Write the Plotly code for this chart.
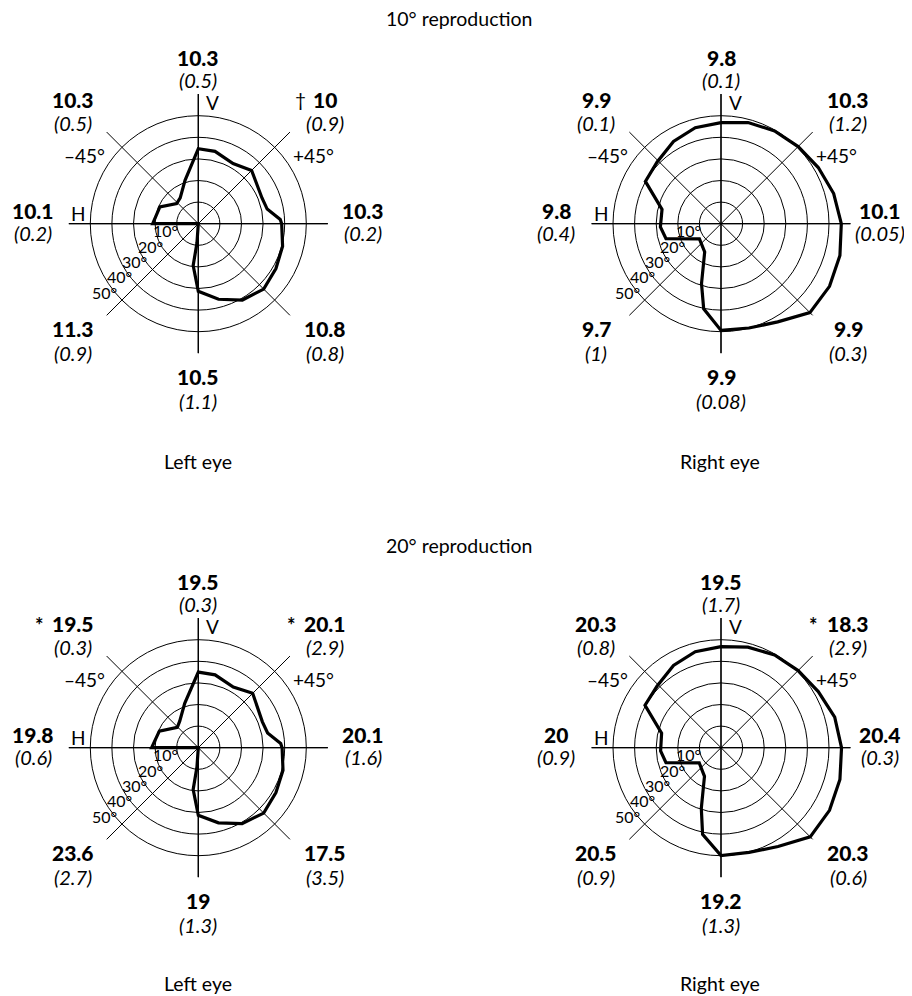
import plotly.graph_objects as go

# The page body has an 8 px margin, so the figure is drawn 8 px in from the window's corner.
PAGE_OFF = 8
FIG_W, FIG_H = 904, 988
R_MAX = 60            # radial extent of the spokes (degrees of visual angle)
R_PX = 129.6          # pixel radius that corresponds to R_MAX
PX_PER_DEG = R_PX / R_MAX

rings = [10, 20, 30, 40, 50]
ring_labels = ["10°", "20°", "30°", "40°", "50°"]
spokes = [0, 45, 90, 135, 180, 225, 270, 315]

# ---- boundary traces (theta in degrees, 0 = right, counter-clockwise; r in degrees) ----
tl_theta = [0, 180, 156.5, 137, 125, 107, 90, 77, 60, 45, 22, 12, 3, 0, -15, -30, -45, -60, -75, -90, -97, -94, 0]
tl_r     = [0, 21.1, 19.4, 13.7, 14.6, 21.0, 34.7, 34.4, 32.2, 34.9, 31.8, 32.6, 38.0, 38.6, 40.4, 41.5, 42.8, 40.8, 36.2, 31.3, 19.5, 9.0, 0]

bl_theta = [0, 180, 157, 136, 125, 107, 90, 77, 60, 45, 22, 12, 3, 0, -15, -30, -45, -60, -75, -90, -97, -94, 0]
bl_r     = [0, 21.6, 19.6, 13.5, 15.0, 21.5, 35.0, 34.6, 32.4, 35.6, 32.0, 32.8, 38.2, 38.8, 40.6, 41.5, 42.8, 40.6, 36.0, 31.3, 19.5, 9.0, 0]

tr_theta = [90, 75, 60, 45, 30, 15, 0, -15, -30, -45, -60, -75, -90, -101.5, -108, -120, -145, -164.7, -177, 166.3, 150.8, 136, 120, 105, 90]
tr_r     = [46.8, 48.5, 49.6, 50.5, 52.0, 54.0, 55.7, 57.0, 58.0, 58.2, 52.5, 50.0, 49.4, 40.2, 29.2, 15.1, 12.2, 26.4, 28.1, 28.1, 40.1, 41.1, 44.0, 46.0, 46.8]

br_theta = [90, 75, 60, 45, 30, 15, 0, -15, -30, -45, -60, -75, -90, -102, -108, -120, -145, -164.7, -177, 166.3, 150.8, 136, 120, 105, 90]
br_r     = [46.8, 48.2, 49.6, 50.5, 52.0, 54.5, 55.8, 57.0, 58.0, 58.4, 52.8, 50.2, 49.9, 41.0, 29.5, 15.3, 12.3, 26.4, 28.0, 28.3, 40.3, 41.1, 44.0, 46.0, 46.8]

# ---- meridian labels: mean (bold) and SD (italic) ----
label_pos = ["top", "ul", "ur", "left", "right", "ll", "lr", "bottom"]

tl_means = ["10.3", "10.3", "10", "10.1", "10.3", "11.3", "10.8", "10.5"]
tl_sds   = ["(0.5)", "(0.5)", "(0.9)", "(0.2)", "(0.2)", "(0.9)", "(0.8)", "(1.1)"]
tl_marks = ["", "", "†", "", "", "", "", ""]

tr_means = ["9.8", "9.9", "10.3", "9.8", "10.1", "9.7", "9.9", "9.9"]
tr_sds   = ["(0.1)", "(0.1)", "(1.2)", "(0.4)", "(0.05)", "(1)", "(0.3)", "(0.08)"]
tr_marks = ["", "", "", "", "", "", "", ""]

bl_means = ["19.5", "19.5", "20.1", "19.8", "20.1", "23.6", "17.5", "19"]
bl_sds   = ["(0.3)", "(0.3)", "(2.9)", "(0.6)", "(1.6)", "(2.7)", "(3.5)", "(1.3)"]
bl_marks = ["", "*", "*", "", "", "", "", ""]

br_means = ["19.5", "20.3", "18.3", "20", "20.4", "20.5", "20.3", "19.2"]
br_sds   = ["(1.7)", "(0.8)", "(2.9)", "(0.9)", "(0.3)", "(0.9)", "(0.6)", "(1.3)"]
br_marks = ["", "", "*", "", "", "", "", ""]

section_titles = ["10° reproduction", "20° reproduction"]
eye_titles = ["Left eye", "Right eye"]

# ---- layout helpers (window pixel coordinates) ----
FONT = "Lato, 'Noto Sans', sans-serif"
centres = {"tl": (198.3, 223.7), "tr": (721.0, 223.7), "bl": (198.3, 747.7), "br": (721.0, 747.7)}
right_dx = {"tl": 165, "tr": 159, "bl": 165, "br": 159}
# pixel offsets (dx, dy_bold, dy_italic) from the chart centre
offsets = {"top": (0, -166, -144), "ul": (-125, -124, -101), "ur": (127, -124, -101),
           "left": (-165, -13, 9), "right": (None, -13, 9), "ll": (-125, 105, 129),
           "lr": (127, 105, 129), "bottom": (0, 153, 177)}


def px(x):
    return (x - PAGE_OFF) / FIG_W


def py(y):
    return 1 - (y - PAGE_OFF) / FIG_H


def text_width(s):
    return sum(5.5 if c == "." else 12.2 for c in s)


def ann(x, y, text, size, weight=None, xanchor="center"):
    font = dict(family=FONT, size=size, color="black")
    if weight:
        font["weight"] = weight
    return dict(x=px(x), y=py(y), text=text, showarrow=False, xref="paper", yref="paper",
                xanchor=xanchor, yanchor="middle", font=font)


fig = go.Figure()
annotations = []

charts = [
    ("tl", "polar", tl_theta, tl_r, tl_means, tl_sds, tl_marks),
    ("tr", "polar2", tr_theta, tr_r, tr_means, tr_sds, tr_marks),
    ("bl", "polar3", bl_theta, bl_r, bl_means, bl_sds, bl_marks),
    ("br", "polar4", br_theta, br_r, br_means, br_sds, br_marks),
]

layout_polars = {}
for key, sp, th, rr, means, sds, marks in charts:
    cx, cy = centres[key]
    layout_polars[sp] = dict(
        domain=dict(x=[px(cx - R_PX), px(cx + R_PX)], y=[py(cy + R_PX), py(cy - R_PX)]),
        bgcolor="white",
        radialaxis=dict(range=[0, R_MAX], tickmode="array", tickvals=rings, showticklabels=False,
                        ticks="", showline=False, gridcolor="black", gridwidth=0.9),
        angularaxis=dict(tickmode="array", tickvals=spokes, showticklabels=False, ticks="",
                         showline=False, gridcolor="black", gridwidth=0.9,
                         rotation=0, direction="counterclockwise"),
    )
    # emphasised horizontal and vertical meridians
    fig.add_trace(go.Scatterpolar(r=[R_MAX, 0, R_MAX], theta=[180, 0, 0], mode="lines",
                                  line=dict(color="black", width=1.3), subplot=sp,
                                  showlegend=False, hoverinfo="skip"))
    fig.add_trace(go.Scatterpolar(r=[R_MAX, 0, R_MAX], theta=[90, 0, 270], mode="lines",
                                  line=dict(color="black", width=1.3), subplot=sp,
                                  showlegend=False, hoverinfo="skip"))
    # field boundary
    fig.add_trace(go.Scatterpolar(r=rr, theta=th, mode="lines",
                                  line=dict(color="black", width=3.2), subplot=sp,
                                  showlegend=False))

    # ring labels along the lower-left diagonal
    for rv, lab in zip(rings, ring_labels):
        ix = cx - rv * PX_PER_DEG * 0.7071
        iy = cy + rv * PX_PER_DEG * 0.7071
        annotations.append(ann(ix - 3, iy - 8, lab, 16, xanchor="right"))

    for pos, m, s, mk in zip(label_pos, means, sds, marks):
        dx, dyb, dyi = offsets[pos]
        if dx is None:
            dx = right_dx[key]
        annotations.append(ann(cx + dx, cy + dyb, m, 21, weight=900))
        annotations.append(ann(cx + dx, cy + dyi, f"<i>{s}</i>", 20))
        if mk:
            mx = cx + dx - text_width(m) / 2 - 13
            my = cy + dyb + (0 if mk == "†" else 1)
            annotations.append(ann(mx, my, mk, 19 if mk == "†" else 20, weight=None if mk == "†" else 700))

    for txt, dx, dy in [("V", 14, -121), ("H", -119.5, -10), ("–45°", -114, -68.5), ("+45°", 115, -68.5)]:
        annotations.append(ann(cx + dx, cy + dy, txt, 19))

for txt, y in zip(section_titles, [18, 545]):
    annotations.append(ann(459, y, txt, 19.5))
for y in [461, 983]:
    for txt, x in zip(eye_titles, [198, 720]):
        annotations.append(ann(x, y, txt, 19.5))

fig.update_layout(
    width=FIG_W, height=FIG_H, margin=dict(l=0, r=0, t=0, b=0),
    paper_bgcolor="white", plot_bgcolor="white", showlegend=False,
    annotations=annotations, **layout_polars,
)

fig.write_html("out.html")
